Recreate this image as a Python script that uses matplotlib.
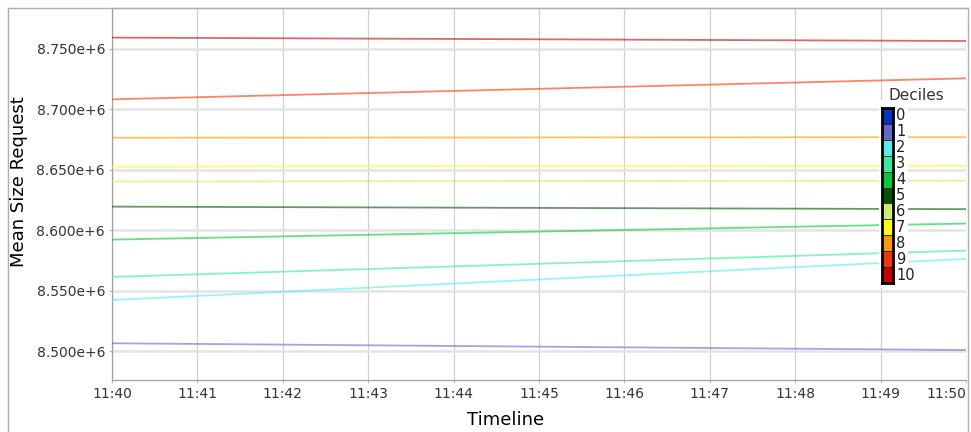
import numpy as np
import matplotlib
matplotlib.use('Agg')
from matplotlib import pyplot as plt
from matplotlib.patches import Rectangle
from matplotlib.lines import Line2D
from matplotlib.ticker import FuncFormatter

# data
times = ['11:40', '11:41', '11:42', '11:43', '11:44', '11:45',
         '11:46', '11:47', '11:48', '11:49', '11:50']
deciles = ['0', '1', '2', '3', '4', '5', '6', '7', '8', '9', '10']
decile_colors = ['#0033cc', '#6666cc', '#55eeee', '#33ee99', '#00cc33', '#005500',
                 '#ccee66', '#ffff00', '#ff9900', '#ff3300', '#cc0000']
# decile 0 has no visible line
line_deciles = [1, 2, 3, 4, 5, 6, 7, 8, 9, 10]
mean_start = [8.5064e6, 8.5422e6, 8.5613e6, 8.5922e6, 8.6195e6,
              8.6403e6, 8.6527e6, 8.6765e6, 8.7083e6, 8.7594e6]
mean_end = [8.5008e6, 8.5762e6, 8.5831e6, 8.6055e6, 8.6174e6,
            8.6410e6, 8.6533e6, 8.6770e6, 8.7257e6, 8.7566e6]
yticks = [8.50e6, 8.55e6, 8.60e6, 8.65e6, 8.70e6, 8.75e6]

W, H = 971, 432
fig = plt.figure(figsize=(W / 100, H / 100), dpi=100)


def px(x0, y0, x1, y1):
    # pixel box (top-left origin) -> figure fraction rect
    return [x0 / W, 1 - y1 / H, (x1 - x0) / W, (y1 - y0) / H]


ax = fig.add_axes(px(112, 8, 966, 380))

x = np.arange(len(times))
for d, s, e in zip(line_deciles, mean_start, mean_end):
    ax.plot([x[0], x[-1]], [s, e], color=decile_colors[d], lw=1.3, alpha=0.6,
            solid_capstyle='butt', zorder=3)

ax.set_xlim(x[0], x[-1])
ax.set_ylim(8.476e6, 8.7839e6)
ax.set_xticks(x)
ax.set_xticklabels(times)
ax.get_xticklabels()[-1].set_horizontalalignment('right')
ax.set_yticks(yticks)
ax.yaxis.set_major_formatter(FuncFormatter(lambda v, p: '%.3fe+6' % (v / 1e6)))
ax.tick_params(axis='both', labelsize=10, labelcolor='#333333', color='#bbbbbb',
               length=2, width=0.8, pad=3)

ax.xaxis.grid(True, color='#d0d0d0', lw=0.9, zorder=0)
ax.yaxis.grid(True, color='#e4e4e4', lw=1.8, zorder=0)
ax.set_axisbelow(True)
for side in ['left', 'bottom', 'top', 'right']:
    ax.spines[side].set_color('#a0a0a0')
    ax.spines[side].set_linewidth(0.9)
ax.spines['right'].set_visible(False)

# axis titles placed where the reference has them
fig.text(506 / W, 1 - 420 / H, 'Timeline', fontsize=13, ha='center', va='center')
fig.text(19 / W, 1 - 182 / H, 'Mean Size Request', fontsize=13, rotation=90,
         ha='center', va='center')

# outer panel frame
fig.add_artist(Line2D([8 / W, 8 / W], [0, 1 - 8 / H], color='#b0b0b0', lw=1))
fig.add_artist(Line2D([8 / W, 968 / W], [1 - 8 / H, 1 - 8 / H], color='#b0b0b0', lw=1))
fig.add_artist(Line2D([968 / W, 968 / W], [0, 1 - 8 / H], color='#b0b0b0', lw=1))

# deciles legend
leg_bg = fig.add_axes(px(879, 100, 908, 288))
leg_bg.axis('off')
leg_bg.add_patch(Rectangle((0, 0), 1, 1, transform=leg_bg.transAxes,
                           facecolor='white', edgecolor='none'))

bar = fig.add_axes(px(882, 108, 893, 283))
n = len(deciles)
for i, c in enumerate(decile_colors):
    bar.add_patch(Rectangle((0, n - 1 - i), 1, 1, facecolor=c,
                            edgecolor='#222222', lw=0.6))
bar.set_xlim(0, 1)
bar.set_ylim(0, n)
bar.set_xticks([])
bar.set_yticks([])
for side in bar.spines.values():
    side.set_linewidth(2)
    side.set_color('black')

for i, lab in enumerate(deciles):
    yc = 108 + (i + 0.5) * (283 - 108) / n
    fig.text(896 / W, 1 - yc / H, lab, fontsize=10.5, color='#222222',
             ha='left', va='center')
fig.text(916 / W, 1 - 96 / H, 'Deciles', fontsize=11, color='#333333',
         ha='center', va='center')

fig.savefig('out.png', dpi=100)
